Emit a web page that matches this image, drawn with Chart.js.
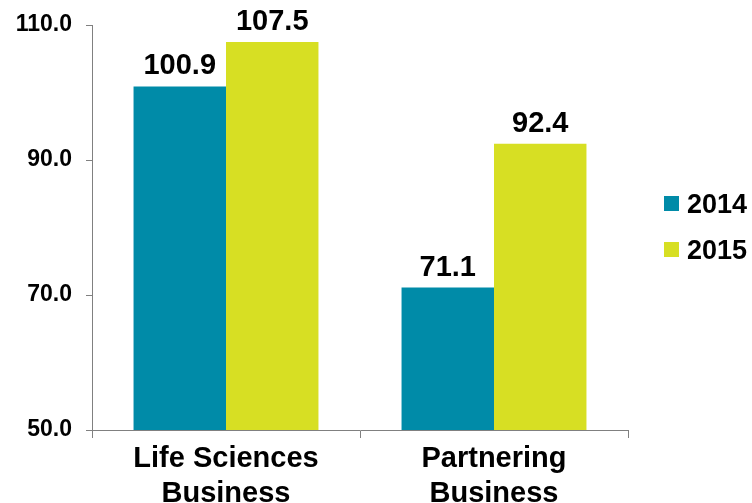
<!DOCTYPE html>
<html>
<head>
<meta charset="utf-8">
<script src="https://cdn.jsdelivr.net/npm/chart.js@4/dist/chart.umd.min.js"></script>
<style>
  html, body { margin: 0; padding: 0; background: #ffffff; }
  #wrap { width: 752px; height: 503px; position: relative; }
</style>
</head>
<body>
<div id="wrap"><canvas id="c" width="752" height="503"></canvas></div>
<script>
const categories = [['Life Sciences', 'Business'], ['Partnering', 'Business']];
const seriesNames = ['2014', '2015'];
const values2014 = [100.9, 71.1];
const values2015 = [107.5, 92.4];
const yTicks = [50, 70, 90, 110];

const FONT = '"Liberation Sans", Arial, Helvetica, sans-serif';
const colors = ['#008BA8', '#D7DF23'];
const axisColor = '#808080';

const valueLabels = {
  id: 'valueLabels',
  afterDatasetsDraw(chart) {
    const ctx = chart.ctx;
    ctx.save();
    ctx.font = 'bold 29px ' + FONT;
    ctx.fillStyle = '#000';
    ctx.textAlign = 'center';
    ctx.textBaseline = 'alphabetic';
    chart.data.datasets.forEach((ds, i) => {
      chart.getDatasetMeta(i).data.forEach((bar, j) => {
        ctx.fillText(ds.data[j].toFixed(1), bar.x, bar.y - 12);
      });
    });
    ctx.restore();
  }
};

const sideLegend = {
  id: 'sideLegend',
  afterDraw(chart) {
    const ctx = chart.ctx;
    ctx.save();
    ctx.font = 'bold 27px ' + FONT;
    ctx.textAlign = 'left';
    ctx.textBaseline = 'alphabetic';
    const x0 = 664, y0 = 196, step = 46, box = 15;
    chart.data.datasets.forEach((ds, i) => {
      const y = y0 + i * step;
      ctx.fillStyle = ds.backgroundColor;
      ctx.fillRect(x0, y, box, box);
      ctx.fillStyle = '#000';
      ctx.fillText(ds.label, x0 + box + 8, y + box + 2);
    });
    ctx.restore();
  }
};

new Chart(document.getElementById('c'), {
  type: 'bar',
  data: {
    labels: categories,
    datasets: [
      { label: seriesNames[0], data: values2014, backgroundColor: colors[0], borderWidth: 0,
        categoryPercentage: 0.69, barPercentage: 1.0 },
      { label: seriesNames[1], data: values2015, backgroundColor: colors[1], borderWidth: 0,
        categoryPercentage: 0.69, barPercentage: 1.0 }
    ]
  },
  options: {
    responsive: false,
    animation: false,
    devicePixelRatio: 1,
    layout: { padding: { top: 25, right: 124, left: 0, bottom: 0 } },
    plugins: { legend: { display: false }, tooltip: { enabled: false } },
    scales: {
      y: {
        min: 50, max: 110,
        afterFit(s) { s.width = 92; s.paddingTop = 0; s.paddingBottom = 0; },
        afterBuildTicks(s) { s.ticks = yTicks.map(v => ({ value: v })); },
        border: { display: true, color: axisColor, width: 1 },
        grid: { drawOnChartArea: false, drawTicks: true, tickLength: 6, color: axisColor },
        ticks: {
          padding: 14,
          color: '#000',
          font: { family: FONT, size: 23, weight: 'bold' },
          callback: v => Number(v).toFixed(1)
        }
      },
      x: {
        afterFit(s) { s.height = 73; },
        border: { display: true, color: axisColor, width: 1 },
        grid: { drawOnChartArea: false, drawTicks: true, tickLength: 8, color: axisColor, offset: true },
        ticks: {
          padding: 4,
          color: '#000',
          maxRotation: 0,
          autoSkip: false,
          font: { family: FONT, size: 29, weight: 'bold', lineHeight: 1.2 }
        }
      }
    }
  },
  plugins: [valueLabels, sideLegend]
});
</script>
</body>
</html>
